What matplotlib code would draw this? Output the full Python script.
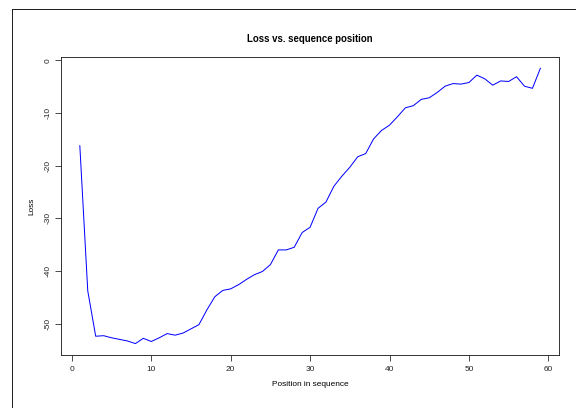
import numpy as np
import matplotlib
matplotlib.use("Agg")
import matplotlib.pyplot as plt
from matplotlib.lines import Line2D

plt.rcParams['font.family'] = ['Liberation Sans', 'DejaVu Sans']

position = np.arange(1, 60)
loss = [-16.2, -43.8, -52.4, -52.3, -52.7, -53.0, -53.3, -53.8, -52.8, -53.4,
        -52.7, -51.9, -52.2, -51.8, -51.0, -50.2, -47.4, -44.9, -43.7, -43.4,
        -42.6, -41.6, -40.7, -40.1, -38.8, -36.0, -36.0, -35.5, -32.7, -31.7,
        -28.1, -26.9, -23.9, -22.0, -20.3, -18.3, -17.7, -14.9, -13.3, -12.3,
        -10.7, -9.0, -8.6, -7.4, -7.1, -6.1, -4.9, -4.4, -4.5, -4.2,
        -2.8, -3.5, -4.7, -3.9, -4.0, -3.1, -4.9, -5.3, -1.5]
x_ticks = [0, 10, 20, 30, 40, 50, 60]
y_ticks = [0, -10, -20, -30, -40, -50]

W, H = 576, 408
fig = plt.figure(figsize=(W / 72, H / 72), dpi=72)
ax = fig.add_axes([61.4 / W, 1 - 354.6 / H, (558.8 - 61.4) / W, (354.6 - 57.3) / H])

ax.plot(position, loss, color='#0000ff', lw=1.0)

# R style 4% padding around the data
xr = position.max() - position.min()
ax.set_xlim(position.min() - 0.04 * xr, position.max() + 0.04 * xr)
yr = max(loss) - min(loss)
ax.set_ylim(min(loss) - 0.04 * yr, max(loss) + 0.04 * yr)

ax.set_xticks(x_ticks)
ax.set_yticks(y_ticks)
ax.set_yticklabels([str(v) for v in y_ticks], rotation=90, va='center')
ax.tick_params(axis='both', direction='out', length=6, width=0.8, labelsize=8.2,
               colors='#222222')
ax.tick_params(axis='x', pad=5)
ax.tick_params(axis='y', pad=4)
for sp in ax.spines.values():
    sp.set_linewidth(0.9)
    sp.set_color('#222222')

ax.set_title('Loss vs. sequence position', fontsize=9.6, fontweight='bold', pad=15.5)
ax.set_xlabel('Position in sequence', fontsize=8.3, labelpad=8)
ax.set_ylabel('Loss', fontsize=8.3, labelpad=9)

# outer frame (extends beyond the picture on the right and bottom)
fx, fy = 11.7 / W, 1 - 9 / H
fig.add_artist(Line2D([fx, fx], [0, fy], transform=fig.transFigure, color='#222222', lw=1))
fig.add_artist(Line2D([fx, 1], [fy, fy], transform=fig.transFigure, color='#222222', lw=1))

fig.savefig('out.png', dpi=72)
